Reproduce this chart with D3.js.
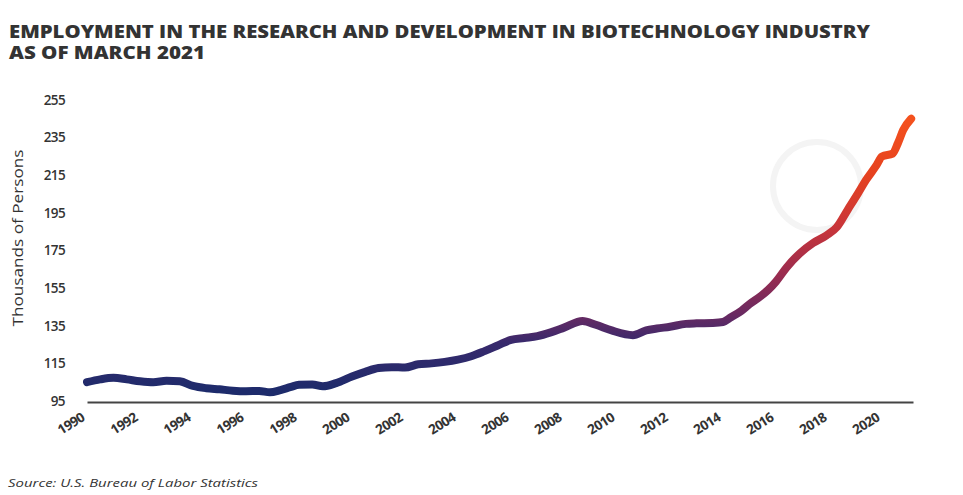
<!DOCTYPE html>
<html>
<head>
<meta charset="utf-8">
<script src="https://cdn.jsdelivr.net/npm/d3@7"></script>
<style>
  body { margin: 0; background: #fff; }
  svg { display: block; }
</style>
</head>
<body>
<svg id="chart"></svg>
<script>
// values (decimal year, thousands of persons)
const years = [
  1990.0, 1990.5, 1991.0, 1991.5, 1992.0, 1992.5, 1993.0, 1993.5, 1994.0, 1994.5,
  1995.0, 1995.5, 1996.0, 1996.5, 1996.9, 1997.3, 1997.7, 1998.0, 1998.5, 1998.9,
  1999.4, 2000.0, 2000.5, 2001.0, 2001.5, 2002.0, 2002.5, 2003.0, 2003.5, 2004.0,
  2004.5, 2005.0, 2005.5, 2006.0, 2006.5, 2007.0, 2007.5, 2008.0, 2008.7, 2009.2,
  2009.8, 2010.6, 2011.1, 2011.5, 2012.0, 2012.6, 2013.0, 2013.6, 2014.0, 2014.3,
  2014.7, 2015.0, 2015.4, 2015.7, 2016.0, 2016.4, 2016.9, 2017.4, 2017.9, 2018.3,
  2018.7, 2019.1, 2019.4, 2019.8, 2020.0, 2020.4, 2020.6, 2020.8, 2021.1
];
const employment = [
  105.0, 106.5, 107.3, 106.5, 105.5, 105.0, 105.8, 105.5, 103.0, 101.8,
  101.2, 100.5, 100.2, 100.3, 99.6, 100.8, 102.5, 103.6, 103.8, 102.8,
  104.5, 108.0, 110.5, 112.5, 113.0, 112.8, 114.5, 115.0, 115.8, 117.0,
  118.8, 121.5, 124.5, 127.5, 128.5, 129.5, 131.5, 134.0, 137.5, 135.5,
  132.5, 130.0, 132.5, 133.5, 134.5, 136.0, 136.3, 136.5, 137.0, 139.5,
  143.0, 146.5, 150.5, 154.0, 158.5, 166.0, 173.5, 179.0, 183.0, 187.5,
  196.5, 205.5, 212.5, 220.5, 225.0, 226.5, 232.0, 239.0, 245.0
];
const yTicks = [95, 115, 135, 155, 175, 195, 215, 235, 255];
const xTicks = [1990, 1992, 1994, 1996, 1998, 2000, 2002, 2004, 2006, 2008,
  2010, 2012, 2014, 2016, 2018, 2020];

const width = 963, height = 495;
const svg = d3.select("#chart").attr("width", width).attr("height", height);

const data = years.map((y, i) => ({ year: y, value: employment[i] }));

const x = d3.scaleLinear().domain([1990, 2021.17]).range([87, 913]);
const y = d3.scaleLinear().domain([95, 255]).range([401, 100]);

// faint background ring
svg.append("circle")
  .attr("cx", 817).attr("cy", 186).attr("r", 44)
  .attr("fill", "none").attr("stroke", "#f4f4f4").attr("stroke-width", 6);

// gradient along the value
const grad = svg.append("defs").append("linearGradient")
  .attr("id", "lineGrad")
  .attr("gradientUnits", "userSpaceOnUse")
  .attr("x1", 0).attr("x2", 0)
  .attr("y1", y(100)).attr("y2", y(245));
[
  [0, "#1d2b6b"], [0.18, "#38296c"], [0.28, "#682a62"], [0.42, "#972b50"],
  [0.6, "#c8353a"], [0.8, "#e6421f"], [1, "#f4511e"]
].forEach(([o, c]) => grad.append("stop").attr("offset", o).attr("stop-color", c));

// title
const title = svg.append("g")
  .attr("font-family", "'Open Sans', sans-serif")
  .attr("font-weight", 800)
  .attr("font-size", 17)
  .attr("fill", "#333");
title.append("text").attr("x", 9).attr("y", 38)
  .attr("textLength", 861).attr("lengthAdjust", "spacingAndGlyphs")
  .text("EMPLOYMENT IN THE RESEARCH AND DEVELOPMENT IN BIOTECHNOLOGY INDUSTRY");
title.append("text").attr("x", 9).attr("y", 59)
  .attr("textLength", 196).attr("lengthAdjust", "spacingAndGlyphs")
  .text("AS OF MARCH 2021");

// y axis
const yAxis = svg.append("g")
  .attr("transform", "translate(87,0)")
  .call(d3.axisLeft(y).tickValues(yTicks).tickSize(0).tickPadding(22));
yAxis.select(".domain").remove();
yAxis.selectAll("text")
  .attr("font-family", "'Open Sans', sans-serif")
  .attr("font-weight", 600)
  .attr("font-size", 13.5)
  .attr("fill", "#333")
  .attr("letter-spacing", "-0.6px");

svg.append("text")
  .attr("transform", "translate(23,238) rotate(-90)")
  .attr("text-anchor", "middle")
  .attr("font-family", "'Open Sans', sans-serif")
  .attr("font-size", 14.5)
  .attr("fill", "#333")
  .attr("textLength", 177).attr("lengthAdjust", "spacingAndGlyphs")
  .text("Thousands of Persons");

// x axis
const xAxis = svg.append("g")
  .attr("transform", `translate(0,${y(95) + 1})`)
  .call(d3.axisBottom(x).tickValues(xTicks).tickFormat(d3.format("d")).tickSize(0).tickSizeOuter(0));
xAxis.select(".domain").attr("stroke", "#444").attr("stroke-width", 2);
xAxis.selectAll("text")
  .attr("y", 0).attr("dy", 0)
  .attr("transform", "translate(-2,18) rotate(-32)")
  .attr("text-anchor", "end")
  .attr("font-family", "'Open Sans', sans-serif")
  .attr("font-weight", 700)
  .attr("font-size", 13.5)
  .attr("fill", "#333")
  .attr("letter-spacing", "-0.6px");

// line
const line = d3.line()
  .x(d => x(d.year))
  .y(d => y(d.value))
  .curve(d3.curveMonotoneX);

svg.append("path")
  .datum(data)
  .attr("d", line)
  .attr("fill", "none")
  .attr("stroke", "url(#lineGrad)")
  .attr("stroke-width", 8)
  .attr("stroke-linecap", "round")
  .attr("stroke-linejoin", "round");

// source
svg.append("text")
  .attr("x", 8).attr("y", 487)
  .attr("font-family", "'Open Sans', sans-serif")
  .attr("font-style", "italic")
  .attr("font-size", 11.5)
  .attr("fill", "#333")
  .attr("textLength", 250).attr("lengthAdjust", "spacingAndGlyphs")
  .text("Source: U.S. Bureau of Labor Statistics");
</script>
</body>
</html>
